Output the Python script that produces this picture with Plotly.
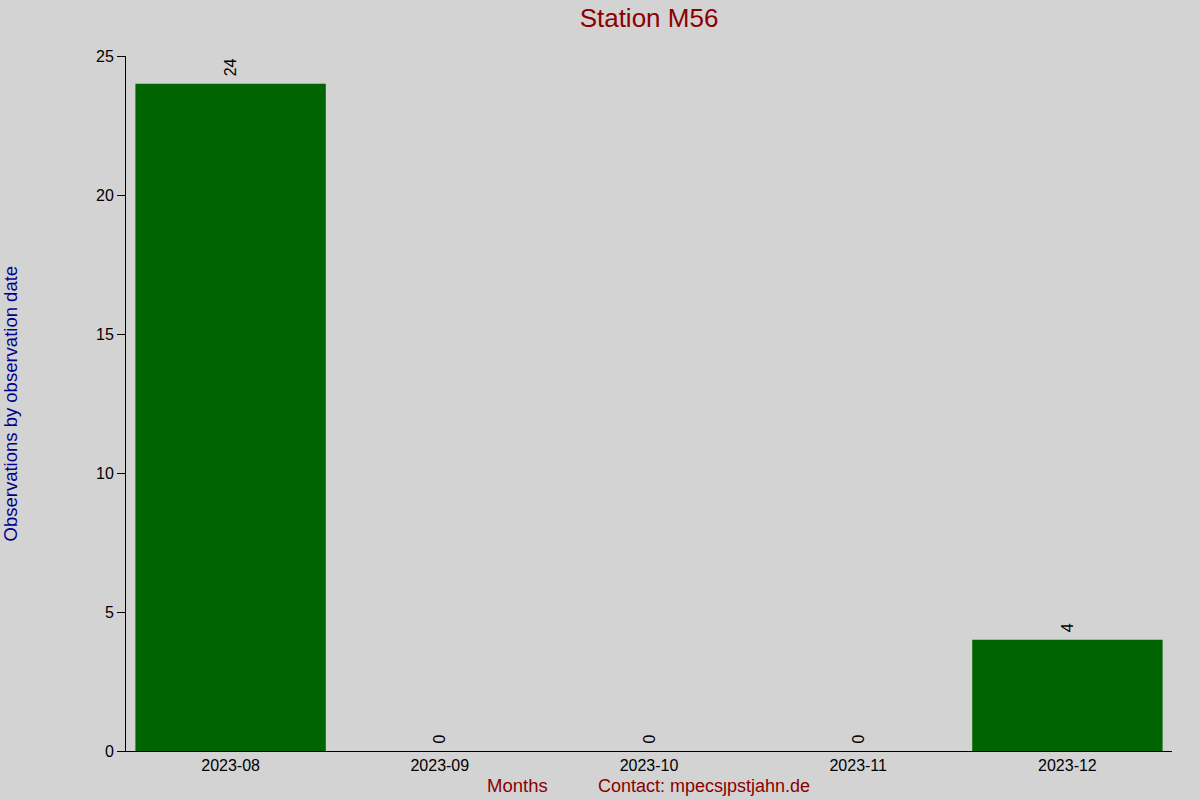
import plotly.graph_objects as go

months = ["2023-08", "2023-09", "2023-10", "2023-11", "2023-12"]
counts = [24, 0, 0, 0, 4]
y_ticks = [0, 5, 10, 15, 20, 25]

FONT = "Liberation Sans, Arial, sans-serif"

fig = go.Figure()
fig.add_trace(go.Bar(
    x=months, y=counts,
    marker=dict(color="#006400", line=dict(width=0)),
    width=0.91,
    text=["\u00a0" + str(c) for c in counts],
    textposition="outside",
    textangle=-90,
    textfont=dict(family=FONT, size=16, color="black"),
    cliponaxis=False,
))

fig.update_layout(
    width=1200, height=800,
    paper_bgcolor="#D3D3D3", plot_bgcolor="#D3D3D3",
    margin=dict(l=126, r=28, t=56, b=49),
    showlegend=False,
    font=dict(family=FONT, size=16, color="black"),
    title=dict(text="Station M56", x=(126 + 1172) / 2 / 1200, xanchor="center",
               y=1 - 18 / 800, yanchor="middle",
               font=dict(family=FONT, size=26, color="#8B0000")),
    xaxis=dict(
        type="category", range=[-0.5, 4.5],
        showline=True, linecolor="black", linewidth=1,
        ticks="", showgrid=False, zeroline=False,
        tickfont=dict(family=FONT, size=16, color="black"),
    ),
    yaxis=dict(
        range=[0, 25], tickvals=y_ticks,
        showline=True, linecolor="black", linewidth=1,
        ticks="outside", ticklen=8, tickcolor="black",
        showgrid=False, zeroline=False,
        tickfont=dict(family=FONT, size=16, color="black"),
    ),
    bargap=0.09,
)

fig.add_annotation(
    text="Observations by observation date", textangle=-90,
    xref="paper", yref="paper", x=-116 / 1046, y=0.5,
    xanchor="center", yanchor="middle", showarrow=False,
    font=dict(family=FONT, size=18.5, color="#00008B"),
)
fig.add_annotation(
    text="Months", xref="paper", yref="paper",
    x=(517 - 126) / 1046, y=-35 / 695, xanchor="center", yanchor="middle",
    showarrow=False, font=dict(family=FONT, size=18.5, color="#8B0000"),
)
fig.add_annotation(
    text="Contact: mpecs\u0237pstjahn.de", xref="paper", yref="paper",
    x=(596 - 126) / 1046, y=-35 / 695, xanchor="left", yanchor="middle",
    showarrow=False, font=dict(family=FONT, size=18, color="#8B0000"),
)

fig.write_html("out.html",
               config={"displayModeBar": False},
               post_script="document.body.style.margin='0';document.body.style.overflow='hidden';")
